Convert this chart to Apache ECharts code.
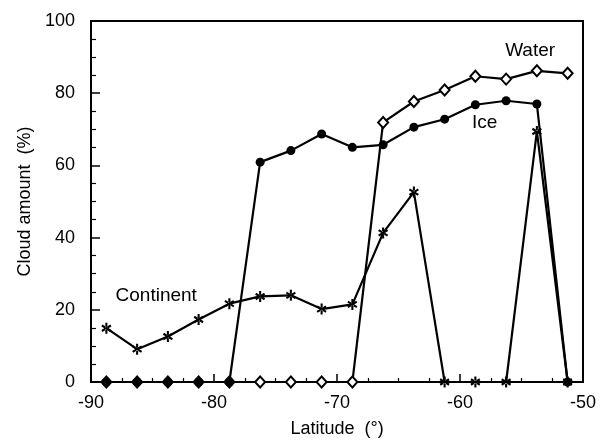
<!DOCTYPE html>
<html>
<head>
<meta charset="utf-8">
<script src="https://cdn.jsdelivr.net/npm/echarts@6/dist/echarts.min.js"></script>
<style>
  html, body { margin: 0; padding: 0; background: #fff; }
  #chart { width: 603px; height: 443px; }
</style>
</head>
<body>
<div id="chart"></div>
<script>
// Latitude bins (degrees) and cloud amount (%) for each surface type
const latitude = [-88.75, -86.25, -83.75, -81.25, -78.75, -76.25, -73.75, -71.25,
                  -68.75, -66.25, -63.75, -61.25, -58.75, -56.25, -53.75, -51.25];
const continent = [14.9, 9.1, 12.6, 17.3, 21.7, 23.7, 24.0, 20.2,
                   21.5, 41.3, 52.6, 0, 0, 0, 69.4, 0];
const ice = [0, 0, 0, 0, 0, 60.9, 64.1, 68.7,
             65.0, 65.7, 70.6, 72.8, 76.8, 77.9, 77.0, 0];
const water = [0, 0, 0, 0, 0, 0, 0, 0,
               0, 71.9, 77.7, 80.9, 84.7, 83.9, 86.2, 85.5];

const xTicks = [-90, -80, -70, -60, -50];
const yTicks = [0, 20, 40, 60, 80, 100];

// In-plot series captions, placed in data coordinates
const captions = [
  { name: 'Water', lat: -54.3, value: 91.7 },
  { name: 'Ice', lat: -58.0, value: 71.8 },
  { name: 'Continent', lat: -84.7, value: 24.0 }
];

const FONT = '"Liberation Sans", Arial, Helvetica, sans-serif';

// Six-armed asterisk marker built from three bars
const asterisk = 'path://M-2,-10L2,-10L2,10L-2,10Z' +
  'M7.66,6.73L9.66,3.27L-7.66,-6.73L-9.66,-3.27Z' +
  'M-9.66,3.27L-7.66,6.73L9.66,-3.27L7.66,-6.73Z';

const pairs = (vals) => latitude.map((lat, i) => [lat, vals[i]]);

function captionMark(name) {
  const c = captions.find(k => k.name === name);
  return {
    symbol: 'circle',
    symbolSize: 0,
    silent: true,
    label: {
      show: true, position: 'inside', formatter: c.name,
      color: '#000', fontSize: 19, fontFamily: FONT
    },
    data: [{ coord: [c.lat, c.value] }]
  };
}

const lineStyle = { color: '#000', width: 2.2 };

const chart = echarts.init(document.getElementById('chart'), null, { renderer: 'canvas' });
chart.setOption({
  animation: false,
  backgroundColor: '#fff',
  grid: {
    left: 91, right: 20, top: 21, bottom: 59,
    show: true, borderColor: '#000', borderWidth: 2, backgroundColor: 'transparent'
  },
  xAxis: {
    type: 'value',
    min: xTicks[0], max: xTicks[xTicks.length - 1], interval: 10,
    name: 'Latitude  (°)',
    nameLocation: 'middle', nameGap: 38,
    nameTextStyle: { color: '#000', fontSize: 18, fontFamily: FONT },
    axisLine: { show: true, lineStyle: { color: '#000', width: 2 } },
    axisTick: { show: true, inside: true, length: 8, lineStyle: { color: '#000', width: 1.5 } },
    minorTick: { show: true, splitNumber: 4, length: 4, lineStyle: { color: '#000', width: 1.2 } },
    axisLabel: { color: '#000', fontSize: 18, fontFamily: FONT, margin: 12 },
    splitLine: { show: false }
  },
  yAxis: {
    type: 'value',
    min: yTicks[0], max: yTicks[yTicks.length - 1], interval: 20,
    name: 'Cloud amount  (%)',
    nameLocation: 'middle', nameGap: 57,
    nameTextStyle: { color: '#000', fontSize: 18, fontFamily: FONT },
    axisLine: { show: true, lineStyle: { color: '#000', width: 2 } },
    axisTick: { show: true, inside: true, length: 9, lineStyle: { color: '#000', width: 1.5 } },
    minorTick: { show: true, splitNumber: 4, length: 5, lineStyle: { color: '#000', width: 1.2 } },
    axisLabel: { color: '#000', fontSize: 18, fontFamily: FONT, margin: 16 },
    splitLine: { show: false }
  },
  series: [
    {
      name: 'Water', type: 'line', z: 2,
      data: pairs(water),
      symbol: 'diamond', symbolSize: [10, 11],
      itemStyle: { color: '#fff', borderColor: '#000', borderWidth: 2 },
      lineStyle: lineStyle,
      markPoint: captionMark('Water')
    },
    {
      name: 'Ice', type: 'line', z: 3,
      data: pairs(ice),
      symbol: 'circle', symbolSize: 9,
      itemStyle: { color: '#000', borderColor: '#000', borderWidth: 0 },
      lineStyle: lineStyle,
      markPoint: captionMark('Ice')
    },
    {
      name: 'Continent', type: 'line', z: 4,
      data: pairs(continent),
      symbol: asterisk, symbolSize: [10, 11],
      itemStyle: { color: '#000', borderWidth: 0 },
      lineStyle: lineStyle,
      markPoint: captionMark('Continent')
    }
  ]
});
</script>
</body>
</html>
